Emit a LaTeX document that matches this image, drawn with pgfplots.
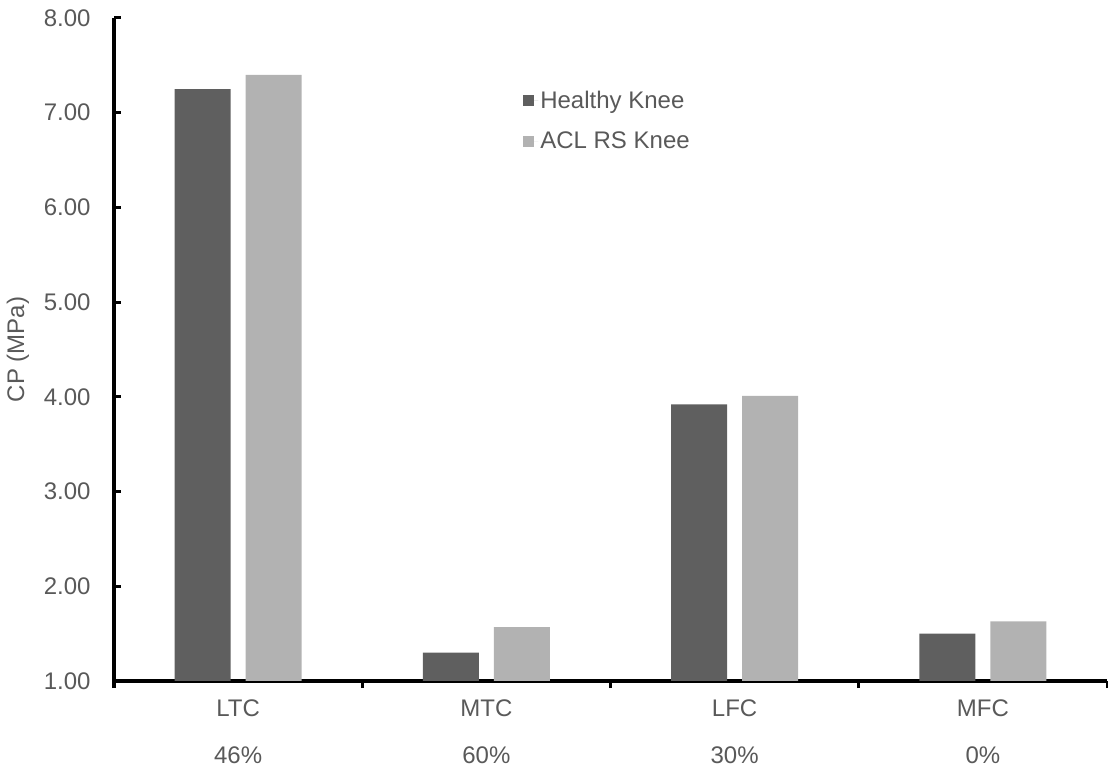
\documentclass[border=0pt]{standalone}
\usepackage{pgfplots}
\pgfplotsset{compat=1.18}
\usepackage{fontspec}
\setmainfont{Liberation Sans}
\definecolor{darkbar}{HTML}{5F5F5F}
\definecolor{lightbar}{HTML}{B2B2B2}
\definecolor{txt}{HTML}{595959}
\newcommand\f{\fontsize{24bp}{28bp}\selectfont}
\begin{document}
\begin{tikzpicture}
\useasboundingbox (0,0) rectangle (1108bp,772bp);
\begin{axis}[
  at={(114bp,91bp)}, anchor=south west,
  scale only axis, width=993bp, height=663bp,
  ybar, bar width=56bp,
  xmin=-0.5, xmax=3.5, ymin=1, ymax=8,
  axis x line=bottom, axis y line=left,
  axis line style={-, black, line width=3bp},
  tick align=inside,
  major tick length=7bp, minor tick length=7bp,
  ytick={1,2,...,8},
  /pgf/number format/fixed, /pgf/number format/fixed zerofill,
  /pgf/number format/precision=2, /pgf/number format/assume math mode=true,
  xtick={0,1,2,3},
  xticklabels={{LTC\\[19bp]46\%},{MTC\\[19bp]60\%},{LFC\\[19bp]30\%},{MFC\\[19bp]0\%}},
  minor xtick={-0.5,0.5,1.5,2.5,3.5},
  major x tick style={draw=none},
  minor x tick style={black, line width=3bp, yshift=-7bp},
  ytick style={black, line width=3bp},
  tick label style={font=\f, text=txt},
  xticklabel style={align=center, anchor=north, yshift=-15bp},
  yticklabel style={xshift=-20bp},
  ylabel={CP (MPa)},
  ylabel style={font=\f, text=txt, at={(axis description cs:-0.0967,0.5)}, anchor=center},
  legend style={draw=none, fill=none, font=\f, text=txt, inner sep=0pt,
    at={(axis description cs:0.412,0.893)}, anchor=north west,
    row sep=18bp, cells={anchor=west}},
  legend cell align=left,
  legend image code/.code={\path (0bp,0bp) -- (15bp,0bp); \fill[#1] (0bp,-5.5bp) rectangle (11bp,5.5bp);},
  clip=true,
]
\addplot[fill=darkbar, draw=none, bar shift=-35.5bp] coordinates {(0,7.25) (1,1.30) (2,3.92) (3,1.50)};
\addplot[fill=lightbar, draw=none, bar shift=35.5bp] coordinates {(0,7.40) (1,1.57) (2,4.01) (3,1.63)};
\legend{Healthy Knee, ACL RS Knee}
\end{axis}
\end{tikzpicture}
\end{document}
